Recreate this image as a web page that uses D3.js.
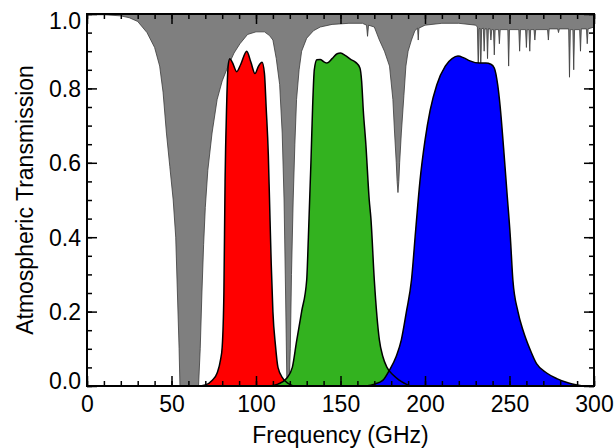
<!DOCTYPE html>
<html><head><meta charset="utf-8">
<script src="https://cdn.jsdelivr.net/npm/d3@7/dist/d3.min.js"></script>
<style>body{margin:0;background:#fff}svg{display:block}text{font-family:"Liberation Sans",Arial,Helvetica,sans-serif}</style>
</head><body><svg id="c" width="616" height="448"></svg>
<script>
// Atmospheric transmission (GHz, fraction)
const atmFreq = [0,10,20,25,30,35.5,40,43,45,47,49,51,52.5,53.5,54.5,55,66,67,68,69,70,71.5,74,77,80,83.5,87,90.5,95,100,105,108,110,112,114,115.5,116.6,117.5,118.3,119.6,120.3,121,122,123,124,125.5,127,130,134,138,145,155,163,165.4,166,166.6,170,173,176,179,181,182,183,183.5,184,184.5,185,186,187.5,188.7,190,192,194,195.6,196,196.4,200,210,220,230,231,231.5,232,232.5,233,233.5,234.5,235,235.5,236.5,237,237.5,238.5,239,239.5,240.5,241,241.5,243.5,244,244.5,249,249.5,250,255.5,256,256.5,259.5,260,260.5,261.5,262,262.5,264.5,265,265.5,272.5,273,273.5,278.5,279,279.5,285,285.5,286,287.5,288,288.5,291.5,292,292.5,295.5,296,296.5,300];
const atmTrans = [0.998,0.998,0.995,0.99,0.98,0.95,0.91,0.86,0.79,0.68,0.59,0.5,0.4,0.25,0.1,0,0,0.1,0.25,0.38,0.48,0.58,0.68,0.77,0.82,0.86,0.895,0.92,0.945,0.952,0.952,0.942,0.93,0.88,0.81,0.68,0.5,0.25,0,0,0.1,0.3,0.5,0.65,0.77,0.85,0.9,0.935,0.955,0.965,0.972,0.975,0.975,0.97,0.94,0.97,0.965,0.93,0.9,0.86,0.77,0.68,0.6,0.55,0.52,0.55,0.6,0.68,0.78,0.86,0.9,0.93,0.955,0.962,0.93,0.962,0.97,0.975,0.975,0.97,0.965,0.85,0.96,0.962,0.84,0.96,0.962,0.9,0.96,0.96,0.88,0.96,0.96,0.93,0.958,0.958,0.89,0.958,0.958,0.92,0.958,0.958,0.86,0.958,0.958,0.9,0.958,0.958,0.91,0.958,0.958,0.9,0.958,0.958,0.93,0.958,0.958,0.93,0.96,0.96,0.95,0.96,0.96,0.83,0.958,0.958,0.85,0.958,0.958,0.9,0.96,0.96,0.92,0.96,0.965];

// 90 GHz band
const redFreq = [65,70,74,77,79,80,81,81.7,82.6,83.5,84.5,86,88.6,91,94.5,97,99.4,101.5,103.6,105,106,107.3,108,109,110,111.5,113,116,119,122];
const redResp = [0,0.003,0.015,0.035,0.07,0.105,0.25,0.55,0.75,0.86,0.88,0.87,0.845,0.865,0.9,0.87,0.84,0.86,0.87,0.84,0.75,0.62,0.5,0.33,0.2,0.11,0.05,0.02,0.007,0];
// 150 GHz band
const greenFreq = [108,113,118,121.5,124,127,130,131,132.5,133.5,134.5,136,138,140,142,145,148,150,153,156,159,161.5,162.5,163.5,165,167,168,170,173,175,177.5,181,185,191];
const greenResp = [0,0.005,0.02,0.05,0.12,0.2,0.285,0.4,0.6,0.75,0.85,0.877,0.878,0.872,0.868,0.88,0.893,0.895,0.888,0.878,0.87,0.855,0.82,0.74,0.65,0.5,0.45,0.285,0.124,0.08,0.05,0.03,0.015,0];
// 220 GHz band
const blueFreq = [165,170,175,179,183,186,189,192,194.5,197,200,203,207,212,216,219.5,223,226.6,232,236,239,241,243,244.5,246.5,248.5,250.5,252,255,258,262,266,272,278,285,293.5];
const blueResp = [0,0.005,0.015,0.043,0.08,0.124,0.2,0.285,0.42,0.55,0.66,0.74,0.81,0.86,0.88,0.887,0.882,0.874,0.868,0.868,0.865,0.855,0.81,0.75,0.64,0.52,0.4,0.285,0.2,0.15,0.1,0.06,0.035,0.02,0.008,0];

const xTicks = [0,50,100,150,200,250,300];
const yTicks = [0.0,0.2,0.4,0.6,0.8,1.0];

const svg = d3.select("#c");
const L=87, R=594, T=14, B=386;
const x = d3.scaleLinear().domain([0,300]).range([L,R]);
const y = d3.scaleLinear().domain([0,1]).range([B,T]);

const atm = atmFreq.map((f,i)=>[f,atmTrans[i]]);
svg.append("path").datum(atm)
  .attr("d", d3.area().x(d=>x(d[0])).y0(y(1)).y1(d=>y(d[1])))
  .attr("fill","#7f7f7f");
svg.append("path").datum(atm)
  .attr("d", d3.line().x(d=>x(d[0])).y(d=>y(d[1])))
  .attr("fill","none").attr("stroke","#3a3a3a").attr("stroke-width",0.8);

const bands = [
  {f:redFreq, r:redResp, c:"#ff0000"},
  {f:greenFreq, r:greenResp, c:"#33b21f"},
  {f:blueFreq, r:blueResp, c:"#0000ff"}
];
const area = d3.area().curve(d3.curveMonotoneX).x(d=>x(d[0])).y0(y(0)).y1(d=>y(d[1]));
const line = d3.line().curve(d3.curveMonotoneX).x(d=>x(d[0])).y(d=>y(d[1]));
bands.forEach(b=>{
  svg.append("path").datum(b.f.map((f,i)=>[f,b.r[i]])).attr("d",area).attr("fill",b.c);
});
bands.forEach(b=>{
  svg.append("path").datum(b.f.map((f,i)=>[f,b.r[i]])).attr("d",line)
    .attr("fill","none").attr("stroke","#000").attr("stroke-width",1.5);
});

// axes (inward ticks on all sides)
const xMinor = d3.range(0,301,10), yMinor = d3.range(0,1.0001,0.05);
function ax(gen, pos, vals, size, labels){
  const g = svg.append("g").attr("transform",pos)
    .call(gen.tickValues(vals).tickSize(-size).tickFormat(labels?d3.format(".0f"):""));
  g.select(".domain").remove();
  g.selectAll(".tick line").attr("stroke","#000").attr("stroke-width",1.5);
  return g;
}
ax(d3.axisBottom(x),`translate(0,${B})`,xMinor,5,false);
ax(d3.axisTop(x),`translate(0,${T})`,xMinor,5,false);
ax(d3.axisLeft(y),`translate(${L},0)`,yMinor,5,false);
ax(d3.axisRight(y),`translate(${R},0)`,yMinor,5,false);
const gb = ax(d3.axisBottom(x),`translate(0,${B})`,xTicks,10,true);
gb.selectAll("text").attr("font-size",23).attr("fill","#000").attr("y",10).attr("dy","0.71em")
  .attr("font-family","'Liberation Sans',Arial,sans-serif");
ax(d3.axisTop(x),`translate(0,${T})`,xTicks,10,false);
const gl = svg.append("g").attr("transform",`translate(${L},0)`)
  .call(d3.axisLeft(y).tickValues(yTicks).tickSize(-10).tickFormat(d3.format(".1f")));
gl.select(".domain").remove();
gl.selectAll(".tick line").attr("stroke","#000").attr("stroke-width",1.5);
gl.selectAll("text").attr("font-size",23).attr("fill","#000").attr("x",-6)
  .attr("font-family","'Liberation Sans',Arial,sans-serif")
  .attr("dy",d=> d===1 ? "0.62em" : d===0 ? "0.1em" : "0.35em");
ax(d3.axisRight(y),`translate(${R},0)`,yTicks,10,false);

svg.append("rect").attr("x",L).attr("y",T).attr("width",R-L).attr("height",B-T)
  .attr("fill","none").attr("stroke","#000").attr("stroke-width",2);

svg.append("text").attr("x",(L+R)/2).attr("y",443).attr("text-anchor","middle")
  .attr("font-size",23).text("Frequency (GHz)");
svg.append("text").attr("transform",`translate(33,${(T+B)/2}) rotate(-90)`)
  .attr("text-anchor","middle").attr("font-size",23).text("Atmospheric Transmission");
</script></body></html>
